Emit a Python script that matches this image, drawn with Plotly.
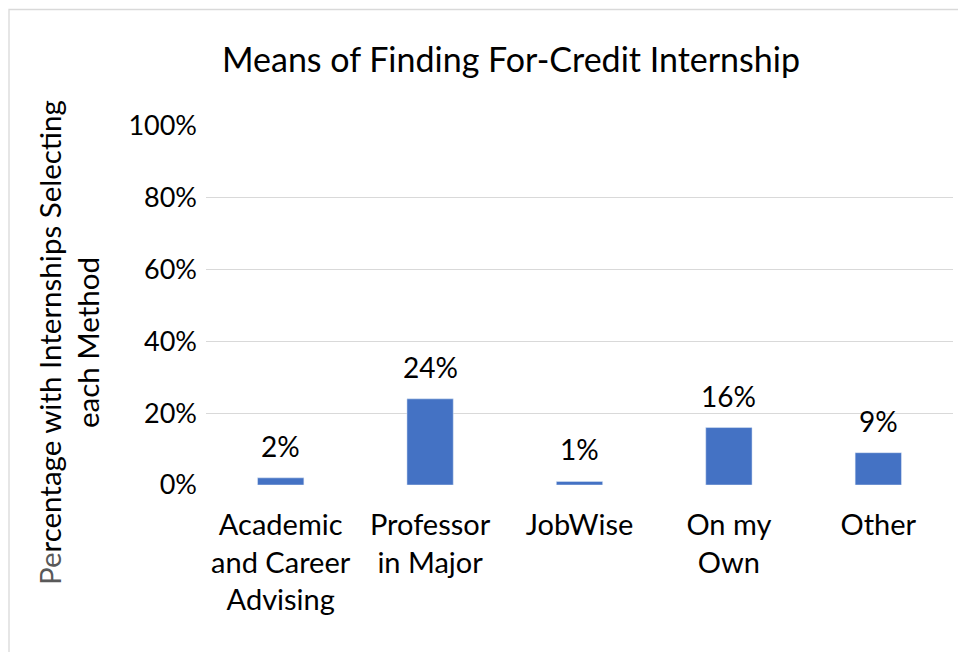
import plotly.graph_objects as go

categories = ["Academic<br>and Career<br>Advising", "Professor<br>in Major", "JobWise", "On my<br>Own", "Other"]
values = [0.02, 0.24, 0.01, 0.16, 0.09]
value_labels = ["2%", "24%", "1%", "16%", "9%"]
tick_vals = [0, 0.2, 0.4, 0.6, 0.8, 1.0]
tick_text = ["0%", "20%", "40%", "60%", "80%", "100%"]

FONT = "Lato"
OFF = 8  # page body margin
W, H = 966 - OFF, 652 - OFF
L, R, T, B = 206 - OFF, 13, 126 - OFF, 167

fig = go.Figure(go.Bar(
    x=categories, y=values,
    marker=dict(color="#4472C4"), width=0.31, cliponaxis=False,
))

pw = W - L - R
ph = H - T - B

annotations = [dict(x=c, y=v, text=t, xref="x", yref="y", showarrow=False,
                    yanchor="bottom", yshift=13,
                    font=dict(family=FONT, size=28, color="#000000"))
               for c, v, t in zip(categories, values, value_labels)]
annotations.append(dict(
    text="<span style='color:#595959'>Pe</span>rcentage with Internships Selecting<br>each Method",
    textangle=-90, xref="paper", yref="paper",
    x=(68 - OFF - L) / pw, y=(H - B - (343 - OFF)) / ph, xanchor="center", yanchor="middle",
    showarrow=False, font=dict(family=FONT, size=29.5, color="#000000")))

fig.update_layout(
    width=W, height=H,
    margin=dict(l=L, r=R, t=T, b=B),
    paper_bgcolor="white", plot_bgcolor="white",
    showlegend=False,
    font=dict(family=FONT, size=28, color="#000000"),
    title=dict(text="Means of Finding For-Credit Internship", x=(511 - OFF) / W, xref="container",
               xanchor="center", y=1 - (60 - OFF) / H, yref="container", yanchor="middle",
               font=dict(family=FONT, size=34, color="#000000")),
    xaxis=dict(showgrid=False, showline=False, ticks="", tickfont=dict(size=29),
               ticklabelstandoff=20),
    yaxis=dict(range=[0, 1.0], tickvals=tick_vals, ticktext=tick_text, showgrid=True,
               gridcolor="#d9d9d9", gridwidth=1.3, zeroline=False, showline=False,
               ticks="", ticklabelstandoff=8, tickfont=dict(size=27)),
    annotations=annotations,
    shapes=[dict(type="rect", xref="paper", yref="paper",
                 x0=(1 - L) / pw, x1=(W + 20 - L) / pw,
                 y0=(H - B - (H + 20)) / ph, y1=(H - B - 1.5) / ph,
                 line=dict(color="#d9d9d9", width=1.3), fillcolor="rgba(0,0,0,0)", layer="below")],
)

fig.write_html("out.html")
